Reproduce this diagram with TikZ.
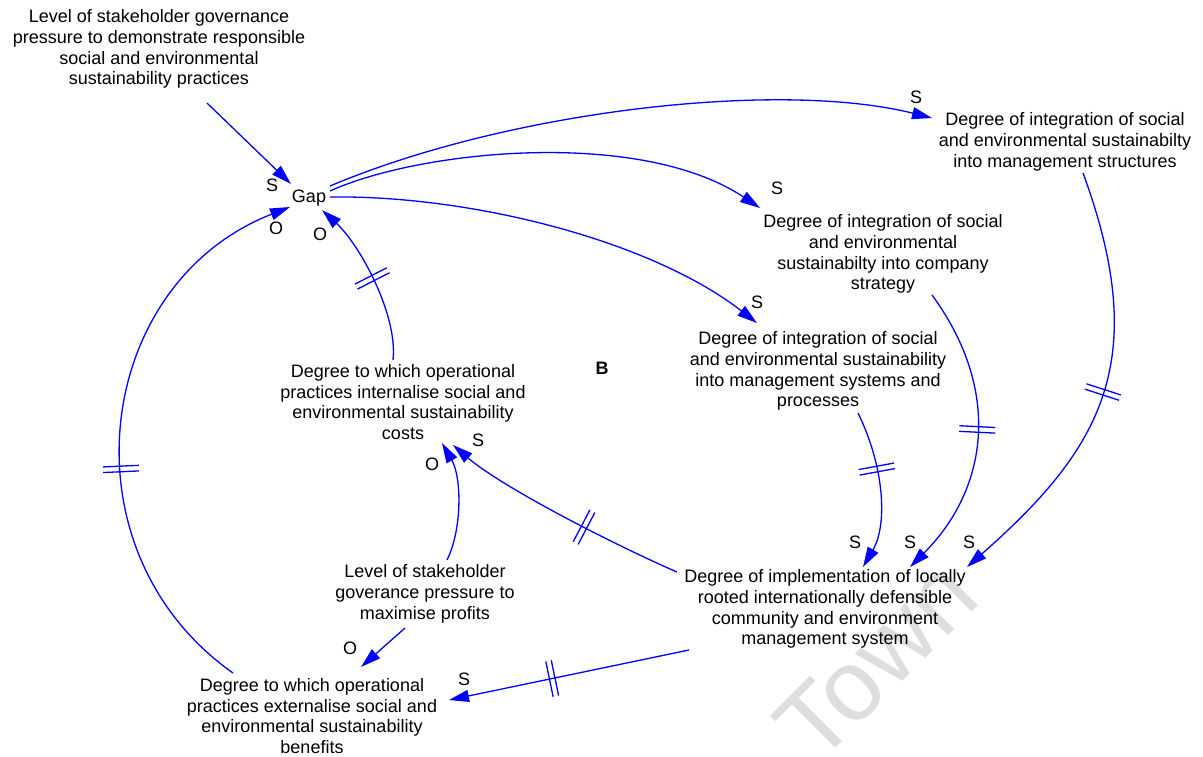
\documentclass[tikz,border=0pt]{standalone}
\usepackage{fontspec}
\setmainfont{Liberation Sans}
\usetikzlibrary{arrows.meta,decorations.markings}
\begin{document}
\begin{tikzpicture}[x=0.5pt,y=-0.5pt,
  txt/.style={align=center,font=\fontsize{9}{10.4}\selectfont,inner sep=0pt},
  lbl/.style={font=\fontsize{9}{10.4}\selectfont,inner sep=0pt},
  lnk/.style={draw=blue,line width=0.65pt,-{Triangle[length=10pt,width=6pt]}},
  dly/.style={postaction={decorate,decoration={markings,mark=at position #1 with {\draw[-,blue,line width=0.65pt] (-1.4pt,-9pt)--(-1.4pt,9pt) (1.4pt,-9pt)--(1.4pt,9pt);}}}}
]
\useasboundingbox (0,0) rectangle (1203,756);
\fill[white] (0,0) rectangle (1203,756);
% watermark
\node[font=\fontsize{50}{50}\selectfont,text=black!13,rotate=45,anchor=center,inner sep=0pt] (wm) at (876,660) {Town};
% nodes
\node[txt] (top) at (159,49) {Level of stakeholder governance\\pressure to demonstrate responsible\\social and environmental\\sustainability practices};
\node[txt] (gap) at (309,198) {Gap};
\node[txt] (str) at (1065,142) {Degree of integration of social\\and environmental sustainabilty\\into management structures};
\node[txt] (stg) at (883,254) {Degree of integration of social\\and environmental\\sustainabilty into company\\strategy};
\node[txt] (sys) at (818,371) {Degree of integration of social\\and environmental sustainability\\into management systems and\\processes};
\node[txt] (int) at (403,402) {Degree to which operational\\practices internalise social and\\environmental sustainability\\costs};
\node[txt,font=\fontsize{9}{10.4}\selectfont\bfseries] (loopB) at (602,368) {B};
\node[txt] (prof) at (425,594) {Level of stakeholder\\goverance pressure to\\maximise profits};
\node[txt] (impl) at (825,609) {Degree of implementation of locally\\rooted internationally defensible\\community and environment\\management system};
\node[txt] (ext) at (312,716) {Degree to which operational\\practices externalise social and\\environmental sustainability\\benefits};
% links
\draw[lnk] ([shift={(48,54)}]top.center) -- ([shift={(-18,-14)}]gap.center);
\draw[lnk] ([shift={(21,-12)}]gap.center) .. controls (510,110) and (780,80) .. ([shift={(-133,-24)}]str.center);
\draw[lnk] ([shift={(21,-7)}]gap.center) .. controls (420,150) and (640,128) .. ([shift={(-123,-46)}]stg.center);
\draw[lnk] ([shift={(21,-1)}]gap.center) .. controls (470,195) and (650,240) .. ([shift={(-61,-48)}]sys.center);
\draw[lnk,dly=0.5] ([shift={(-10,-42)}]int.center) .. controls (398,315) and (360,245) .. ([shift={(13,12)}]gap.center);
\draw[lnk,dly=0.42] ([shift={(-79,-43)}]ext.center) .. controls (60,551) and (93,284) .. ([shift={(-19,9)}]gap.center);
\draw[lnk] ([shift={(22,-34)}]prof.center) .. controls (462,530) and (462,478) .. ([shift={(39,41)}]int.center);
\draw[lnk,dly=0.4] ([shift={(-148,-37)}]impl.center) .. controls (617,546) and (503,488) .. ([shift={(50,43)}]int.center);
\draw[lnk] ([shift={(-20,34)}]prof.center) -- ([shift={(49,-49)}]ext.center);
\draw[lnk,dly=0.57] ([shift={(-136,41)}]impl.center) -- ([shift={(137,-16)}]ext.center);
\draw[lnk,dly=0.37] ([shift={(40,42)}]sys.center) .. controls (884,466) and (888,524) .. ([shift={(38,-42)}]impl.center);
\draw[lnk,dly=0.48] ([shift={(49,41)}]stg.center) .. controls (1003,392) and (987,490) .. ([shift={(85,-42)}]impl.center);
\draw[lnk,dly=0.5] ([shift={(18,31)}]str.center) .. controls (1152,361) and (1102,448) .. ([shift={(142,-42)}]impl.center);
% polarity labels
\node[lbl] (la) at (272,185) {S};
\node[lbl] (lb) at (916,97) {S};
\node[lbl] (lc) at (777,188) {S};
\node[lbl] (ld) at (757,302) {S};
\node[lbl] (le) at (320,234) {O};
\node[lbl] (lf) at (276,228) {O};
\node[lbl] (lg) at (432,464) {O};
\node[lbl] (lh) at (478,440) {S};
\node[lbl] (li) at (350,648) {O};
\node[lbl] (lj) at (464,679) {S};
\node[lbl] (lk) at (855,542) {S};
\node[lbl] (ll) at (910,542) {S};
\node[lbl] (lm) at (969,542) {S};
\end{tikzpicture}
\end{document}
